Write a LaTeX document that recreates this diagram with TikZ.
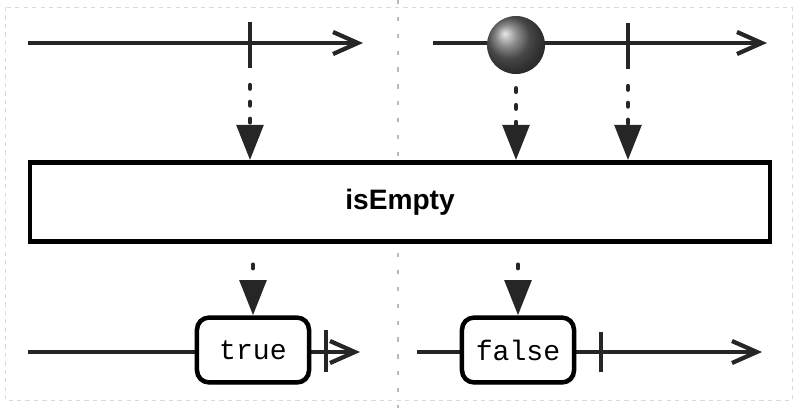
\documentclass[tikz,border=0pt]{standalone}
\usepackage{fontspec}
\setsansfont{Liberation Sans}
\setmonofont{Liberation Mono}
\usetikzlibrary{shapes, calc, arrows.meta, positioning, shadows}

\tikzset{
  timeline/.style={line width=3pt, black!85, -{Straight Barb[length=0.62cm, width=0.55cm, line width=3pt]}},
  flow/.style={line width=3.2pt, black!85, line cap=round, dash pattern=on 2.5pt off 9.5pt, -{Triangle[length=0.88cm, width=0.66cm]}},
  tick/.style={inner sep=0pt, minimum width=0pt, minimum height=1.15cm},
  tickline/.style={line width=3pt, black!85},
  ball/.style={circle, inner sep=0pt, minimum size=1.45cm, shading=ball, ball color=black!60},
  opbox/.style={draw, line width=3.2pt, fill=white, minimum width=18.5cm, minimum height=1.98cm,
    font=\sffamily\bfseries\fontsize{20}{24}\selectfont, drop shadow={opacity=0.3, shadow xshift=1.5pt, shadow yshift=-1.5pt}},
  result/.style={draw, line width=3.2pt, fill=white, rounded corners=0.3cm, minimum width=2.8cm, minimum height=1.62cm,
    font=\ttfamily\fontsize{20}{24}\selectfont, drop shadow={opacity=0.3, shadow xshift=1.5pt, shadow yshift=-1.5pt}},
}

\begin{document}
\begin{tikzpicture}[x=0.025cm, y=-0.025cm]
    \useasboundingbox (0,0) rectangle (798,408);
    \draw[gray!30, dashed, line width=0.6pt] (5,7) rectangle (792,400);
    \draw[gray!55, line width=1pt, dash pattern=on 3pt off 9pt] (398,0) -- (398,408);

    % source streams
    \coordinate (s1a) at (28,43);
    \coordinate (s1b) at (363,43);
    \coordinate (s2a) at (433,43);
    \coordinate (s2b) at (767,43);
    \draw[timeline] (s1a) -- (s1b);
    \draw[timeline] (s2a) -- (s2b);

    \node[tick] (t1) at (250,45) {};
    \draw[tickline] (t1.north) -- (t1.south);
    \node[ball] (b1) at (516,45) {};
    \node[tick] (t2) at (628,46) {};
    \draw[tickline] (t2.north) -- (t2.south);

    % operator
    \node[opbox] (op) at (400,202) {isEmpty};

    \draw[flow] ([yshift=-0.42cm]t1.south) -- (t1 |- op.north);
    \draw[flow] ([yshift=-0.35cm]b1.south) -- (b1 |- op.north);
    \draw[flow] ([yshift=-0.42cm]t2.south) -- (t2 |- op.north);

    % result streams
    \coordinate (r1a) at (28,352);
    \coordinate (r1b) at (360,352);
    \coordinate (r2a) at (417,352);
    \coordinate (r2b) at (762,352);
    \draw[timeline] (r1a) -- (r1b);
    \draw[timeline] (r2a) -- (r2b);

    \node[result] (yes) at (253,350) {true};
    \node[result] (no) at (518,350) {false};

    \node[tick, minimum height=1.05cm] (t3) at (326,351) {};
    \draw[tickline] (t3.north) -- (t3.south);
    \node[tick, minimum height=1.0cm] (t4) at (601,352) {};
    \draw[tickline] (t4.north) -- (t4.south);

    \draw[flow] ([yshift=-0.52cm]op.south -| yes.north) -- (yes.north);
    \draw[flow] ([yshift=-0.52cm]op.south -| no.north) -- (no.north);
\end{tikzpicture}
\end{document}
